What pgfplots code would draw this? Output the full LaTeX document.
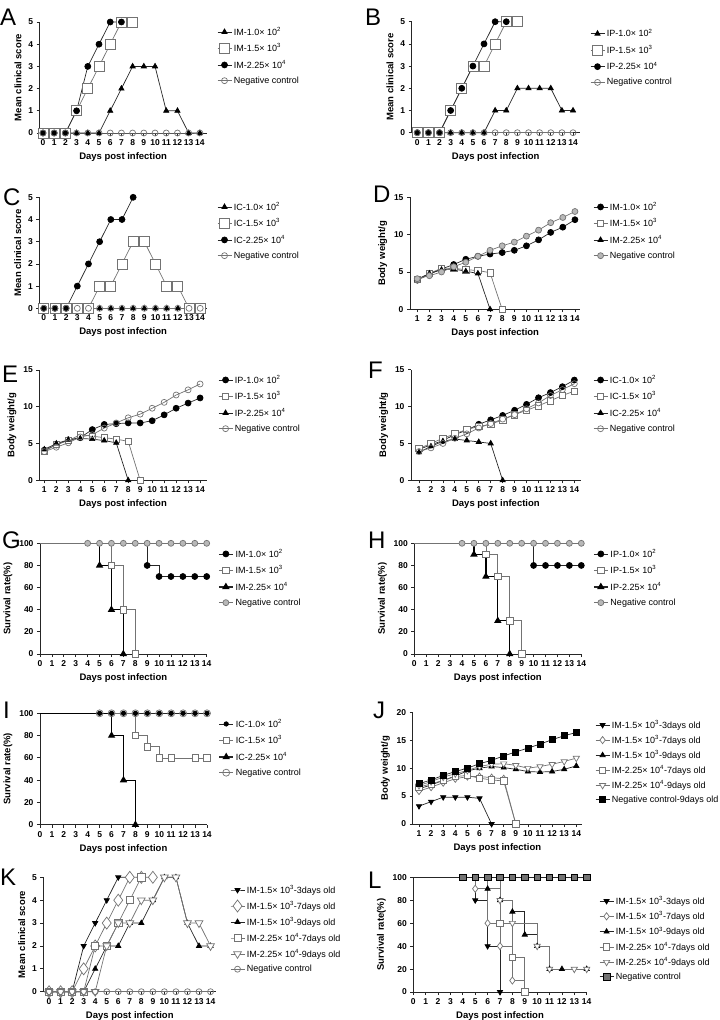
\documentclass[border=0pt]{standalone}
\usepackage{fontspec}
\setmainfont{Liberation Sans}
\usepackage{pgfplots}
\pgfplotsset{compat=1.18}
\definecolor{dg}{gray}{0.15}
\definecolor{mg}{gray}{0.45}
\definecolor{lg}{gray}{0.72}
\pgfplotsset{
 legend image code/.code={\draw[mark repeat=2,mark phase=2,#1] plot coordinates {(0pt,0pt) (7pt,0pt) (14pt,0pt)};},
 gp/.style={scale only axis, clip=false, anchor=south west,
   axis x line*=bottom, axis y line*=left,
   axis line style={dg, line width=0.9pt, -},
   tick style={dg, line width=0.8pt}, tick align=outside, major tick length=3pt,
   ticklabel style={font=\fontsize{8.5}{9}\selectfont\bfseries},
   /pgf/number format/assume math mode=true,
   xlabel={Days post infection},
   label style={font=\fontsize{9.5}{11}\selectfont\bfseries},
   legend style={draw=none, fill=none, anchor=north west, font=\fontsize{9}{11}\selectfont, row sep=3pt, inner sep=0pt},
   legend cell align=left,
   every axis plot/.append style={line width=0.7pt}},
 fc/.style={dg, mark=*, mark size=3pt, mark options={solid, fill=black, draw=black}},
 oc/.style={mg, mark=o, mark size=3pt, mark options={solid, draw=mg}},
 osqL/.style={mg, mark=square*, mark size=5pt, mark options={solid, fill=white, draw=mg}},
 osq/.style={mg, mark=square*, mark size=3.2pt, mark options={solid, fill=white, draw=mg}},
 ft/.style={dg, mark=triangle*, mark size=3pt, mark options={solid, fill=black, draw=black}},
 fdt/.style={dg, mark=triangle*, mark size=3pt, mark options={solid, fill=black, draw=black, rotate=180}},
 odt/.style={mg, mark=triangle*, mark size=3.6pt, mark options={solid, fill=white, draw=mg, rotate=180}},
 odia/.style={mg, mark=diamond*, mark size=3.6pt, mark options={solid, fill=white, draw=mg}},
 odiaL/.style={mg, mark=diamond*, mark size=6pt, mark options={solid, fill=white, draw=mg}},
 fsq/.style={dg, mark=square*, mark size=3pt, mark options={solid, fill=black, draw=black}},
 gc/.style={mg, mark=*, mark size=3pt, mark options={solid, fill=lg, draw=mg}},
 hsq/.style={dg, mark=square*, mark size=3.3pt, mark options={solid, fill=mg, draw=black}},
 mk/.style={only marks, legend image post style={sharp plot}},
 score/.style={gp, ymin=0, ymax=5, ytick={0,...,5}, xtick={0,...,14}, ylabel={Mean clinical score}},
 weight/.style={gp, ymin=0, ymax=15, ytick={0,5,10,15}, xtick={1,...,14}, ylabel={Body weight/g}},
 surv/.style={gp, xmin=0, xmax=14, ymin=0, ymax=100, ytick={0,20,...,100}, xtick={0,...,14}, ylabel={Survival rate(\%)}},
}
\newcommand{\sci}[2]{#1× 10\textsuperscript{#2}}
\newcommand{\pl}[1]{\fontsize{24}{24}\selectfont #1}
\begin{document}
\begin{tikzpicture}
\path[use as bounding box] (0,0) rectangle (720pt,-1020pt);
% letters
\node[anchor=base west, inner sep=0] at (0pt,-25pt) {\pl{A}};
\node[anchor=base west, inner sep=0] at (365pt,-25pt) {\pl{B}};
\node[anchor=base west, inner sep=0] at (3pt,-205pt) {\pl{C}};
\node[anchor=base west, inner sep=0] at (373pt,-202pt) {\pl{D}};
\node[anchor=base west, inner sep=0] at (2pt,-382pt) {\pl{E}};
\node[anchor=base west, inner sep=0] at (368pt,-378pt) {\pl{F}};
\node[anchor=base west, inner sep=0] at (2pt,-548pt) {\pl{G}};
\node[anchor=base west, inner sep=0] at (368pt,-548pt) {\pl{H}};
\node[anchor=base west, inner sep=0] at (3pt,-718pt) {\pl{I}};
\node[anchor=base west, inner sep=0] at (373pt,-718pt) {\pl{J}};
\node[anchor=base west, inner sep=0] at (0pt,-885pt) {\pl{K}};
\node[anchor=base west, inner sep=0] at (368pt,-888pt) {\pl{L}};

% ---------- A ----------
\begin{axis}[score, at={(39.6pt,-133pt)}, width=167pt, height=111pt, xmin=-0.3, xmax=14.6,
  legend style={at={(1.062,0.973)}}]
\addplot[ft] coordinates {(0,0)(1,0)(2,0)(3,0)(4,0)(5,0)(6,1)(7,2)(8,3)(9,3)(10,3)(11,1)(12,1)(13,0)(14,0)};
\addlegendentry{IM-\sci{1.0}{2}}
\addplot[osqL] coordinates {(0,0)(1,0)(2,0)(3,1)(4,2)(5,3)(6,4)(7,5)(8,5)};
\addlegendentry{IM-\sci{1.5}{3}}
\addplot[fc] coordinates {(0,0)(1,0)(2,0)(3,1)(4,3)(5,4)(6,5)(7,5)};
\addlegendentry{IM-\sci{2.25}{4}}
\addplot[oc] coordinates {(0,0)(1,0)(2,0)(3,0)(4,0)(5,0)(6,0)(7,0)(8,0)(9,0)(10,0)(11,0)(12,0)(13,0)(14,0)};
\addlegendentry{Negative control}
\end{axis}

% ---------- B ----------
\begin{axis}[score, at={(411.7pt,-132.7pt)}, width=168pt, height=111pt, xmin=-0.5, xmax=14.6,
  legend style={at={(1.061,0.955)}}]
\addplot[ft] coordinates {(0,0)(1,0)(2,0)(3,0)(4,0)(5,0)(6,0)(7,1)(8,1)(9,2)(10,2)(11,2)(12,2)(13,1)(14,1)};
\addlegendentry{IP-\sci{1.0}{2}}
\addplot[osqL] coordinates {(0,0)(1,0)(2,0)(3,1)(4,2)(5,3)(6,3)(7,4)(8,5)(9,5)};
\addlegendentry{IP-\sci{1.5}{3}}
\addplot[fc] coordinates {(0,0)(1,0)(2,0)(3,1)(4,2)(5,3)(6,4)(7,5)(8,5)};
\addlegendentry{IP-\sci{2.25}{4}}
\addplot[oc] coordinates {(0,0)(1,0)(2,0)(3,0)(4,0)(5,0)(6,0)(7,0)(8,0)(9,0)(10,0)(11,0)(12,0)(13,0)(14,0)};
\addlegendentry{Negative control}
\end{axis}

% ---------- C ----------
\begin{axis}[score, at={(39.3pt,-308.3pt)}, width=167.6pt, height=111pt, xmin=-0.4, xmax=14.6,
  legend style={at={(1.06,0.976)}}]
\addplot[ft] coordinates {(0,0)(1,0)(2,0)(3,0)(4,0)(5,0)(6,0)(7,0)(8,0)(9,0)(10,0)(11,0)(12,0)(13,0)(14,0)};
\addlegendentry{IC-\sci{1.0}{2}}
\addplot[osqL] coordinates {(0,0)(1,0)(2,0)(3,0)(4,0)(5,1)(6,1)(7,2)(8,3)(9,3)(10,2)(11,1)(12,1)(13,0)(14,0)};
\addlegendentry{IC-\sci{1.5}{3}}
\addplot[fc] coordinates {(0,0)(1,0)(2,0)(3,1)(4,2)(5,3)(6,4)(7,4)(8,5)};
\addlegendentry{IC-\sci{2.25}{4}}
\addplot[oc] coordinates {(0,0)(1,0)(2,0)(3,0)(4,0)(5,0)(6,0)(7,0)(8,0)(9,0)(10,0)(11,0)(12,0)(13,0)(14,0)};
\addlegendentry{Negative control}
\end{axis}

% ---------- D ----------
\begin{axis}[weight, at={(410pt,-309.3pt)}, width=170.4pt, height=112pt, xmin=0.4, xmax=14.45,
  legend style={at={(1.074,0.976)}}]
\addplot[fc] coordinates {(1,3.9)(2,4.7)(3,5.4)(4,6.0)(5,6.7)(6,7.1)(7,7.4)(8,7.6)(9,7.9)(10,8.5)(11,9.3)(12,10.3)(13,11.0)(14,12.0)};
\addlegendentry{IM-\sci{1.0}{2}}
\addplot[osq] coordinates {(1,4.0)(2,4.8)(3,5.5)(4,5.5)(5,5.3)(6,5.2)(7,4.9)(8,0)};
\addlegendentry{IM-\sci{1.5}{3}}
\addplot[ft] coordinates {(1,4.0)(2,4.8)(3,5.3)(4,5.4)(5,5.1)(6,4.8)(7,0)};
\addlegendentry{IM-\sci{2.25}{4}}
\addplot[gc] coordinates {(1,4.1)(2,4.5)(3,5.0)(4,5.7)(5,6.3)(6,7.1)(7,7.9)(8,8.5)(9,9.0)(10,9.8)(11,10.6)(12,11.6)(13,12.3)(14,13.1)};
\addlegendentry{Negative control}
\end{axis}

% ---------- E ----------
\begin{axis}[weight, at={(39.3pt,-480.3pt)}, width=167.5pt, height=110.3pt, xmin=0.58, xmax=14.56,
  legend style={at={(1.067,0.973)}}]
\addplot[fc] coordinates {(1,4.1)(2,4.8)(3,5.5)(4,5.8)(5,6.9)(6,7.6)(7,7.7)(8,7.8)(9,7.8)(10,8.1)(11,8.9)(12,9.8)(13,10.5)(14,11.2)};
\addlegendentry{IP-\sci{1.0}{2}}
\addplot[osq] coordinates {(1,3.9)(2,4.9)(3,5.4)(4,6.2)(5,6.0)(6,5.8)(7,5.6)(8,5.3)(9,0)};
\addlegendentry{IP-\sci{1.5}{3}}
\addplot[ft] coordinates {(1,4.2)(2,5.0)(3,5.5)(4,5.7)(5,5.6)(6,5.4)(7,5.1)(8,0)};
\addlegendentry{IP-\sci{2.25}{4}}
\addplot[oc] coordinates {(1,3.9)(2,4.5)(3,5.1)(4,5.9)(5,6.2)(6,7.1)(7,7.8)(8,8.5)(9,9.0)(10,9.8)(11,10.6)(12,11.6)(13,12.3)(14,13.1)};
\addlegendentry{Negative control}
\end{axis}

% ---------- F ----------
\begin{axis}[weight, at={(411pt,-480.3pt)}, width=169.8pt, height=110.6pt, xmin=0.33, xmax=14.54,
  legend style={at={(1.072,0.97)}}]
\addplot[fc] coordinates {(1,4.2)(2,4.8)(3,5.4)(4,6.2)(5,6.8)(6,7.6)(7,8.2)(8,8.8)(9,9.5)(10,10.3)(11,11.2)(12,11.9)(13,12.7)(14,13.6)};
\addlegendentry{IC-\sci{1.0}{2}}
\addplot[osq] coordinates {(1,4.3)(2,5.0)(3,5.7)(4,6.3)(5,6.9)(6,7.3)(7,7.6)(8,8.2)(9,8.9)(10,9.5)(11,10.1)(12,10.8)(13,11.5)(14,12.1)};
\addlegendentry{IC-\sci{1.5}{3}}
\addplot[ft] coordinates {(1,3.8)(2,4.6)(3,5.3)(4,5.6)(5,5.4)(6,5.2)(7,5.0)(8,0)};
\addlegendentry{IC-\sci{2.25}{4}}
\addplot[oc] coordinates {(1,3.9)(2,4.4)(3,5.0)(4,5.7)(5,6.3)(6,7.1)(7,7.7)(8,8.3)(9,8.9)(10,9.7)(11,10.5)(12,11.5)(13,12.3)(14,13.1)};
\addlegendentry{Negative control}
\end{axis}

% ---------- G ----------
\begin{axis}[surv, at={(40pt,-654pt)}, width=166.7pt, height=110.7pt,
  legend style={at={(1.068,0.967)}}]
\addplot[const plot, dg, forget plot] coordinates {(0,100)(9,80)(10,70)(14,70)};
\addplot[fc, mk] coordinates {(9,80)(10,70)(11,70)(12,70)(13,70)(14,70)};
\addlegendentry{IM-\sci{1.0}{2}}
\addplot[const plot, mg, forget plot] coordinates {(0,100)(6,80)(7,40)(8,0)};
\addplot[osq, mk] coordinates {(6,80)(7,40)(8,0)};
\addlegendentry{IM-\sci{1.5}{3}}
\addplot[const plot, black, line width=1.3pt, forget plot] coordinates {(0,100)(5,80)(6,40)(7,0)};
\addplot[ft, mk, line width=1.3pt] coordinates {(5,80)(6,40)(7,0)};
\addlegendentry{IM-\sci{2.25}{4}}
\addplot[const plot, mg, forget plot] coordinates {(0,100)(14,100)};
\addplot[gc, mk] coordinates {(4,100)(5,100)(6,100)(7,100)(8,100)(9,100)(10,100)(11,100)(12,100)(13,100)(14,100)};
\addlegendentry{Negative control}
\end{axis}

% ---------- H ----------
\begin{axis}[surv, at={(414.3pt,-654pt)}, width=167pt, height=110.7pt,
  legend style={at={(1.07,0.967)}}]
\addplot[const plot, dg, forget plot] coordinates {(0,100)(10,80)(14,80)};
\addplot[fc, mk] coordinates {(10,80)(11,80)(12,80)(13,80)(14,80)};
\addlegendentry{IP-\sci{1.0}{2}}
\addplot[const plot, mg, forget plot] coordinates {(0,100)(6,90)(7,70)(8,30)(9,0)};
\addplot[osq, mk] coordinates {(6,90)(7,70)(8,30)(9,0)};
\addlegendentry{IP-\sci{1.5}{3}}
\addplot[const plot, black, line width=1.3pt, forget plot] coordinates {(0,100)(5,90)(6,70)(7,30)(8,0)};
\addplot[ft, mk, line width=1.3pt] coordinates {(5,90)(6,70)(7,30)(8,0)};
\addlegendentry{IP-\sci{2.25}{4}}
\addplot[const plot, mg, forget plot] coordinates {(0,100)(14,100)};
\addplot[gc, mk] coordinates {(4,100)(5,100)(6,100)(7,100)(8,100)(9,100)(10,100)(11,100)(12,100)(13,100)(14,100)};
\addlegendentry{Negative control}
\end{axis}

% ---------- I ----------
\begin{axis}[surv, at={(40pt,-824.7pt)}, width=167pt, height=111.4pt,
  legend style={at={(1.068,0.967)}}]
\addplot[const plot, dg, forget plot] coordinates {(0,100)(14,100)};
\addplot[fc, mk, mark size=2.2pt] coordinates {(5,100)(6,100)(7,100)(8,100)(9,100)(10,100)(11,100)(12,100)(13,100)(14,100)};
\addlegendentry{IC-\sci{1.0}{2}}
\addplot[const plot, mg, forget plot] coordinates {(0,100)(8,80)(9,70)(10,60)(14,60)};
\addplot[osq, mk] coordinates {(8,80)(9,70)(10,60)(11,60)(13,60)(14,60)};
\addlegendentry{IC-\sci{1.5}{3}}
\addplot[const plot, black, line width=1.3pt, forget plot] coordinates {(0,100)(6,80)(7,40)(8,0)};
\addplot[ft, mk, line width=1.3pt] coordinates {(6,80)(7,40)(8,0)};
\addlegendentry{IC-\sci{2.25}{4}}
\addplot[mg, mk, mark=o, mark size=3.5pt, mark options={solid, draw=mg}] coordinates {(5,100)(6,100)(7,100)(8,100)(9,100)(10,100)(11,100)(12,100)(13,100)(14,100)};
\addlegendentry{Negative control}
\end{axis}

% ---------- J ----------
\begin{axis}[gp, at={(412.7pt,-824pt)}, width=169.3pt, height=111.7pt, xmin=0.48, xmax=14.47,
  ymin=0, ymax=20, ytick={0,5,...,20}, xtick={1,...,14}, ylabel={Body weight/g},
  legend style={at={(1.077,0.949)}, row sep=1.6pt}]
\addplot[fdt] coordinates {(1,3.2)(2,4.0)(3,4.8)(4,4.8)(5,4.8)(6,4.6)(7,0)};
\addlegendentry{IM-\sci{1.5}{3}-3days old}
\addplot[odia] coordinates {(1,5.9)(2,6.6)(3,7.4)(4,8.1)(5,8.5)(6,8.5)(7,8.3)(8,8.1)(9,0)};
\addlegendentry{IM-\sci{1.5}{3}-7days old}
\addplot[ft] coordinates {(1,6.3)(2,7.0)(3,7.8)(4,8.6)(5,9.5)(6,10.0)(7,10.3)(8,10.1)(9,9.8)(10,9.4)(11,9.3)(12,9.4)(13,9.8)(14,10.4)};
\addlegendentry{IM-\sci{1.5}{3}-9days old}
\addplot[osq] coordinates {(1,6.6)(2,7.2)(3,7.8)(4,8.5)(5,8.7)(6,8.2)(7,7.9)(8,7.7)(9,0)};
\addlegendentry{IM-\sci{2.25}{4}-7days old}
\addplot[odt] coordinates {(1,6.9)(2,7.6)(3,8.4)(4,9.0)(5,9.6)(6,10.3)(7,10.7)(8,10.8)(9,10.5)(10,10.0)(11,10.3)(12,10.7)(13,11.2)(14,11.8)};
\addlegendentry{IM-\sci{2.25}{4}-9days old}
\addplot[fsq] coordinates {(1,7.2)(2,7.9)(3,8.7)(4,9.4)(5,10.0)(6,10.8)(7,11.4)(8,12.2)(9,12.9)(10,13.6)(11,14.3)(12,15.1)(13,15.8)(14,16.4)};
\addlegendentry{Negative control-9days old}
\end{axis}

% ---------- K ----------
\begin{axis}[score, at={(43.3pt,-991.7pt)}, width=173pt, height=114.4pt, xmin=-0.5, xmax=14.5,
  legend style={at={(1.079,0.95)}, row sep=2.5pt}]
\addplot[fdt] coordinates {(0,0)(1,0)(2,0)(3,2)(4,3)(5,4)(6,5)(7,5)};
\addlegendentry{IM-\sci{1.5}{3}-3days old}
\addplot[odiaL] coordinates {(0,0)(1,0)(2,0)(3,1)(4,2)(5,3)(6,4)(7,5)(8,5)(9,5)};
\addlegendentry{IM-\sci{1.5}{3}-7days old}
\addplot[ft] coordinates {(0,0)(1,0)(2,0)(3,0)(4,1)(5,2)(6,2)(7,3)(8,3)(9,4)(10,5)(11,5)(12,3)(13,2)(14,2)};
\addlegendentry{IM-\sci{1.5}{3}-9days old}
\addplot[osq, mark size=3.6pt] coordinates {(0,0)(1,0)(2,0)(3,0)(4,2)(5,2)(6,3)(7,4)(8,5)};
\addlegendentry{IM-\sci{2.25}{4}-7days old}
\addplot[odt, mark size=4.5pt] coordinates {(0,0)(1,0)(2,0)(3,0)(4,0)(5,2)(6,3)(7,3)(8,4)(9,4)(10,5)(11,5)(12,3)(13,3)(14,2)};
\addlegendentry{IM-\sci{2.25}{4}-9days old}
\addplot[oc] coordinates {(0,0)(1,0)(2,0)(3,0)(4,0)(5,0)(6,0)(7,0)(8,0)(9,0)(10,0)(11,0)(12,0)(13,0)(14,0)};
\addlegendentry{Negative control}
\end{axis}

% ---------- L ----------
\begin{axis}[surv, at={(413.3pt,-992pt)}, width=173.4pt, height=114.7pt,
  legend style={at={(1.071,0.854)}, row sep=1.8pt}]
\addplot[const plot, dg, forget plot] coordinates {(0,100)(5,80)(6,40)(7,0)};
\addplot[fdt, mk] coordinates {(5,80)(6,40)(7,0)};
\addlegendentry{IM-\sci{1.5}{3}-3days old}
\addplot[const plot, mg, forget plot] coordinates {(0,100)(5,90)(6,60)(7,40)(8,10)(9,0)};
\addplot[odia, mk] coordinates {(5,90)(6,60)(7,40)(8,10)(9,0)};
\addlegendentry{IM-\sci{1.5}{3}-7days old}
\addplot[const plot, dg, forget plot] coordinates {(0,100)(6,90)(7,80)(8,70)(9,50)(10,40)(11,20)(14,20)};
\addplot[ft, mk] coordinates {(6,90)(7,80)(8,70)(9,50)(10,40)(11,20)(12,20)(14,20)};
\addlegendentry{IM-\sci{1.5}{3}-9days old}
\addplot[const plot, mg, forget plot] coordinates {(0,100)(6,90)(7,60)(8,30)(9,0)};
\addplot[osq, mk] coordinates {(7,60)(8,30)(9,0)};
\addlegendentry{IM-\sci{2.25}{4}-7days old}
\addplot[const plot, mg, forget plot] coordinates {(0,100)(7,80)(8,60)(10,40)(11,20)(14,20)};
\addplot[odt, mk] coordinates {(7,80)(8,60)(10,40)(11,20)(13,20)(14,20)};
\addlegendentry{IM-\sci{2.25}{4}-9days old}
\addplot[const plot, dg, forget plot] coordinates {(0,100)(14,100)};
\addplot[hsq, mk] coordinates {(4,100)(5,100)(6,100)(7,100)(8,100)(9,100)(10,100)(11,100)(12,100)(13,100)(14,100)};
\addlegendentry{Negative control}
\end{axis}
\end{tikzpicture}
\end{document}
